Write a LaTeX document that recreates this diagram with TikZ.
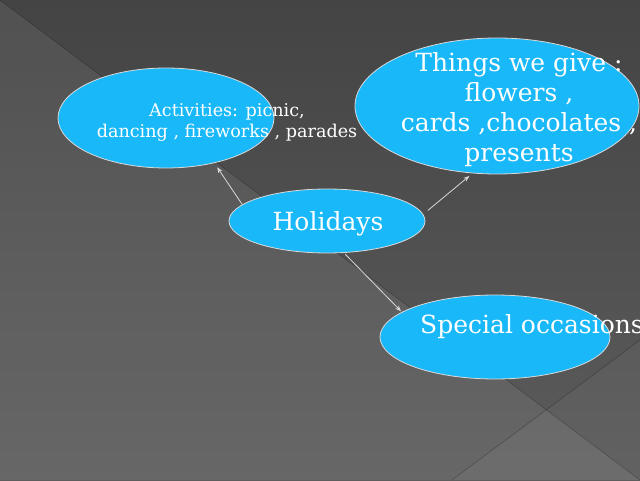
\documentclass[tikz,border=0pt]{standalone}
\usepackage{fontspec}
\setmainfont{DejaVu Serif}
\usepackage{tikz}
\usetikzlibrary{positioning, calc}
\usetikzlibrary{arrows.meta}
\usetikzlibrary{shapes.geometric}
\definecolor{bubblue}{HTML}{19B8F8}
\definecolor{bgtop}{HTML}{444444}
\definecolor{bgbottom}{HTML}{5C5C5C}
\tikzstyle{bubble}=[ellipse,draw=white!85!black,line width=0.8pt,
fill=bubblue,inner sep=0pt]
\tikzstyle{bubtext}=[text=white,align=center,inner sep=0pt]
\tikzstyle{bigtext}=[bubtext,font=\fontsize{25}{30}\selectfont]
\tikzstyle{edgepath} = [-{Stealth[length=6pt,width=4.5pt]},line width=0.8pt,
draw=white!85!black]

\begin{document}
\begin{tikzpicture}[x=1pt,y=1pt]
    % background
    \useasboundingbox (0,0) rectangle (640,480);
    \shade[top color=bgtop, bottom color=bgbottom] (0,0) rectangle (640,480);
    \fill[white, opacity=0.07] (0,480) -- (640,0) -- (0,0) -- cycle;
    \fill[white, opacity=0.04] (452,0) -- (640,140) -- (640,0) -- cycle;
    \draw[black, opacity=0.25, line width=0.6pt] (0,480) -- (640,0);
    \draw[black, opacity=0.25, line width=0.6pt] (452,0) -- (640,140);

    \node[bubble, minimum width=216, minimum height=100] (act) at (166,362) {};
    \node[bubtext, font=\fontsize{17.6}{21}\selectfont] (acttext) at (227,358)
        {Activities: picnic,\\dancing , fireworks , parades};

    \node[bubble, minimum width=284, minimum height=136] (give) at (497,374) {};
    \node[bigtext] (givetext) at (519,370) 
        {Things we give :\\flowers ,\\cards ,chocolates ,\\presents};

    \node[bubble, minimum width=196, minimum height=64] (hol) at (327,259) {};
    \node[bigtext] (holtext) at (328,256) {Holidays};

    \node[bubble, minimum width=230, minimum height=84] (spec) at (495,143) {};
    \node[bigtext] (spectext) at (532,153) {Special occasions};

    \draw[edgepath, shorten >=5pt] (hol.169) -- (act.-43);
    \draw[edgepath, shorten <=6pt, shorten >=4pt] (hol.4) -- (give.-110);
    \draw[edgepath, shorten <=2pt, shorten >=1pt] (hol.-62) -- (spec.165);
\end{tikzpicture}
\end{document}
